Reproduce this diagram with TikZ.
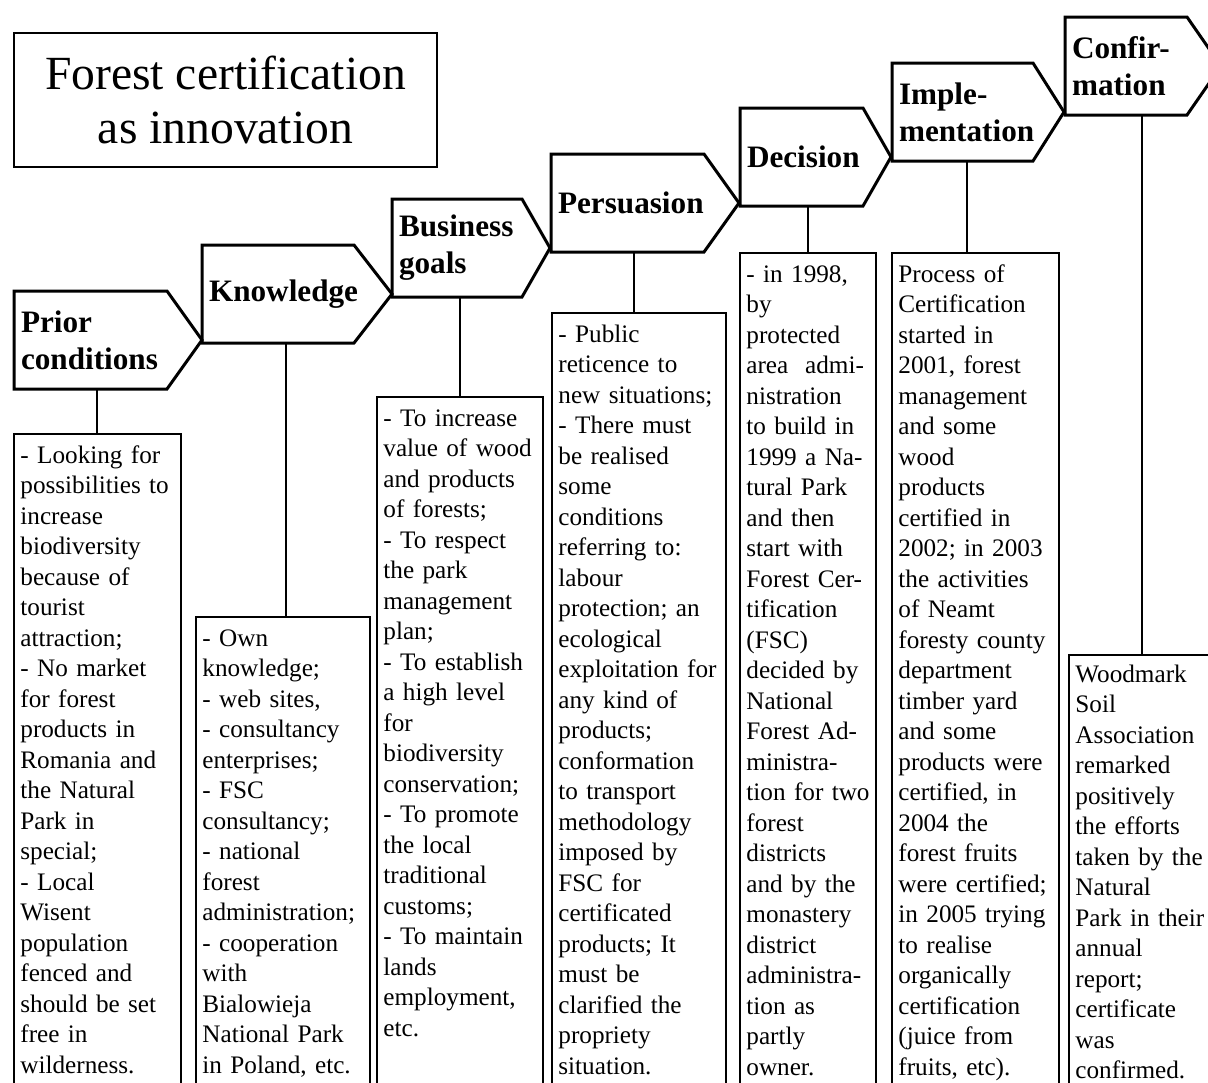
\documentclass[tikz,border=0pt]{standalone}
\usepackage{fontspec}
\setmainfont{Liberation Serif}
\usetikzlibrary{calc}

\tikzset{
  stage/.style={anchor=north west, outer sep=0pt, inner xsep=3.5pt, inner ysep=0pt,
    minimum height=49pt, align=left, font=\fontsize{15.6}{18.5}\selectfont\bfseries},
  stageline/.style={draw=black, line width=1.5pt, line join=miter},
  %
  panel/.style={draw=black, line width=0.7pt, anchor=north west, outer sep=0pt, inner sep=0pt},
  body/.style={anchor=base west, inner sep=0pt, align=left, text width=100pt,
    font=\fontsize{12.6}{15.25}\selectfont},
  %
  link/.style={draw=black, line width=1pt},
  heading/.style={draw=black, line width=0.6pt, inner sep=0pt, align=center,
    font=\fontsize{23.8}{27}\selectfont},
}

\begin{document}
\begin{tikzpicture}[x=0.5pt, y=-0.5pt]

  \useasboundingbox (0,0) rectangle (1208,1082);

  \node[heading, minimum width=211.5pt, minimum height=67pt] (title) at (225.5,100)
    {Forest certification\\as innovation};

  % the stages
  \foreach \i/\x/\y/\w/\tw/\d/\txt in {1/14/291/153/69.5/35/{Prior\\conditions},
      2/202/245/152/69/38/{Knowledge}, 3/392/199/130/58/28/{Business\\goals},
      4/551/154/153/69.5/35/{Persuasion}, 5/740/108/123/54.5/28/{Decision},
      6/892/63/141/63.5/31/{Imple-\\mentation}, 7/1065/17/122/54/34/{Confir-\\mation}} {
    \node[stage, minimum width=\w*0.5pt, text width=\tw pt] (h\i) at (\x,\y) {\txt};
    \draw[stageline] (h\i.north west) -- (h\i.north east) -- ($(h\i.east)+(\d,0)$)
      -- (h\i.south east) -- (h\i.south west) -- cycle;
  }

  % the panels below
  \foreach \i/\x/\y/\w/\lx in {1/14/434/167/97, 2/196/617/174/286, 3/377/397/166/460,
      4/552/313/174/634, 5/740/253/136/808, 6/892/253/167/967, 7/1069/655/150/1142} {
    \node[panel, minimum width=\w*0.5pt, minimum height={(1110-\y)*0.5pt}] (b\i) at (\x,\y) {};
    \coordinate (c\i) at (\lx,0);
    \draw[link] (h\i.south -| c\i) -- (b\i.north -| c\i);
  }

  \node[body] (t1) at ([shift={(6,29)}]b1.north west)
    {- Looking for\\possibilities to\\increase\\biodiversity\\because of\\tourist\\attraction;\\
     - No market\\for forest\\products in\\Romania and\\the Natural\\Park in\\special;\\
     - Local\\Wisent\\population\\fenced and\\should be set\\free in\\wilderness.};

  \node[body] (t2) at ([shift={(6,29)}]b2.north west)
    {- Own\\knowledge;\\- web sites,\\- consultancy\\enterprises;\\- FSC\\consultancy;\\
     - national\\forest\\administration;\\- cooperation\\with\\Bialowieja\\National Park\\
     in Poland, etc.};

  \node[body] (t3) at ([shift={(6,29)}]b3.north west)
    {- To increase\\value of wood\\and products\\of forests;\\- To respect\\the park\\
     management\\plan;\\- To establish\\a high level\\for\\biodiversity\\conservation;\\
     - To promote\\the local\\traditional\\customs;\\- To maintain\\lands\\employment,\\etc.};

  \node[body] (t4) at ([shift={(6,29)}]b4.north west)
    {- Public\\reticence to\\new situations;\\- There must\\be realised\\some\\conditions\\
     referring to:\\labour\\protection; an\\ecological\\exploitation for\\any kind of\\
     products;\\conformation\\to transport\\methodology\\imposed by\\FSC for\\certificated\\
     products; It\\must be\\clarified the\\propriety\\situation.};

  \node[body] (t5) at ([shift={(6,29)}]b5.north west)
    {- in 1998,\\by\\protected\\area \ admi-\\nistration\\to build in\\1999 a Na-\\
     tural Park\\and then\\start with\\Forest Cer-\\tification\\(FSC)\\decided by\\National\\
     Forest Ad-\\ministra-\\tion for two\\forest\\districts\\and by the\\monastery\\district\\
     administra-\\tion as\\partly\\owner.};

  \node[body] (t6) at ([shift={(6,29)}]b6.north west)
    {Process of\\Certification\\started in\\2001, forest\\management\\and some\\wood\\
     products\\certified in\\2002; in 2003\\the activities\\of Neamt\\foresty county\\
     department\\timber yard\\and some\\products were\\certified, in\\2004 the\\
     forest fruits\\were certified;\\in 2005 trying\\to realise\\organically\\
     certification\\(juice from\\fruits, etc).};

  \node[body] (t7) at ([shift={(6,27)}]b7.north west)
    {Woodmark\\Soil\\Association\\remarked\\positively\\the efforts\\taken by the\\
     Natural\\Park in their\\annual\\report;\\certificate\\was\\confirmed.};

\end{tikzpicture}
\end{document}
